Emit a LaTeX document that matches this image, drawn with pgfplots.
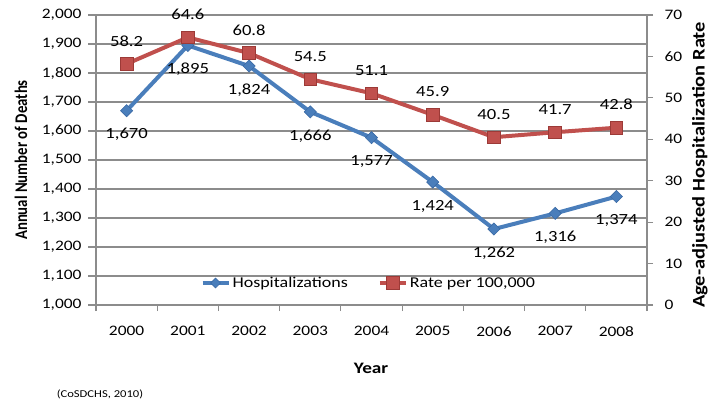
\documentclass[border=0pt]{standalone}
\usepackage{fontspec}
\setmainfont{Carlito}[FakeStretch=1.2]
\newfontfamily\rotfont{Carlito}
\usepackage{pgfplots}
\pgfplotsset{compat=1.18}
\definecolor{hblue}{HTML}{4A7EBB}
\definecolor{hbluedk}{HTML}{3A6AA5}
\definecolor{hred}{HTML}{C0504D}
\definecolor{hreddk}{HTML}{9C3A37}
\definecolor{gridc}{HTML}{8C8C8C}
\newcommand{\tkfont}{\fontsize{14.5bp}{16bp}\selectfont}
\newcommand{\lbfont}{\fontsize{15.5bp}{17bp}\selectfont}
\newcommand{\lgfont}{\fontsize{15bp}{17bp}\selectfont}
\begin{document}
\begin{tikzpicture}[x=1bp,y=1bp]
\useasboundingbox (0,0) rectangle (720,404);
\pgfplotsset{
  common/.style={
    at={(96bp,99bp)}, anchor=south west,
    width=551bp, height=290bp, scale only axis,
    xmin=-0.5, xmax=8.5, clip=false,
    tick align=outside,
    /pgf/number format/assume math mode=true,
    tick label style={font=\tkfont, text=black},
    axis line style={gridc, line width=1.2bp},
    tick style={gridc, line width=1.2bp},
  },
}
\begin{axis}[common,
  ymin=1000, ymax=2000,
  ytick={1000,1100,...,2000},
  scaled y ticks=false,
  yticklabel style={/pgf/number format/1000 sep={,}, xshift=-3bp},
  xticklabel style={yshift=-10bp},
  axis y line*=left, axis x line*=bottom,
  ymajorgrids, major grid style={gridc, line width=1.2bp},
  major y tick style={gridc, line width=1.2bp},
  major tick length=8bp,
  xtick={0,...,8},
  xticklabels={2000,2001,2002,2003,2004,2005,2006,2007,2008},
  major x tick style={draw=none},
  minor xtick={-0.5,0.5,...,8.5},
  minor tick length=6bp,
]
\addplot[hblue, line width=4bp, mark=square*, mark size=4.3bp,
  mark options={rotate=45, fill=hblue, draw=hbluedk, line width=0.6bp},
  nodes near coords,
  /pgf/number format/1000 sep={,},
  every node near coord/.append style={anchor=center, yshift=-24bp, font=\lbfont, text=black},
] coordinates {
 (0,1670) (1,1895) (2,1824) (3,1666) (4,1577) (5,1424) (6,1262) (7,1316) (8,1374)
};
\end{axis}
\begin{axis}[common,
  ymin=0, ymax=70,
  ytick={0,10,...,70},
  yticklabel style={xshift=8bp},
  axis y line*=right, axis x line=none,
  major tick length=6bp,
  legend style={at={(rel axis cs:0.495,0.076)}, anchor=center, draw=none, fill=none,
    font=\lgfont, /tikz/every even column/.append style={column sep=28bp}},
  legend columns=2,
  legend image code/.code={\draw[mark repeat=2,mark phase=2] plot coordinates {(0bp,0bp) (13bp,0bp) (26bp,0bp)};},
]
\addlegendimage{hblue, line width=4bp, mark=square*, mark size=3.5bp,
  mark options={rotate=45, fill=hblue, draw=hbluedk, line width=0.6bp}}
\addlegendentry{Hospitalizations}
\addplot[hred, line width=4bp, mark=square*, mark size=6.3bp,
  mark options={fill=hred, draw=hreddk, line width=0.8bp},
  nodes near coords,
  /pgf/number format/fixed,
  /pgf/number format/precision=1,
  /pgf/number format/fixed zerofill,
  every node near coord/.append style={anchor=center, yshift=23bp, font=\lbfont, text=black},
] coordinates {
 (0,58.2) (1,64.6) (2,60.8) (3,54.5) (4,51.1) (5,45.9) (6,40.5) (7,41.7) (8,42.8)
};
\addlegendentry{Rate per 100,000}
\end{axis}
\node[rotate=90, font=\rotfont\bfseries\fontsize{14.8bp}{16bp}\selectfont] at (21,244) {\scalebox{1}[1.2]{Annual Number of Deaths}};
\node[rotate=90, font=\rotfont\bfseries\fontsize{14.8bp}{16bp}\selectfont] at (700,239) {\scalebox{1.38}[1.2]{Age-adjusted Hospitalization Rate}};
\node[font=\bfseries\fontsize{16bp}{18bp}\selectfont] at (371,36) {Year};
\node[font=\fontsize{10.5bp}{12bp}\selectfont] at (100,10) {(CoSDCHS, 2010)};
\end{tikzpicture}
\end{document}
